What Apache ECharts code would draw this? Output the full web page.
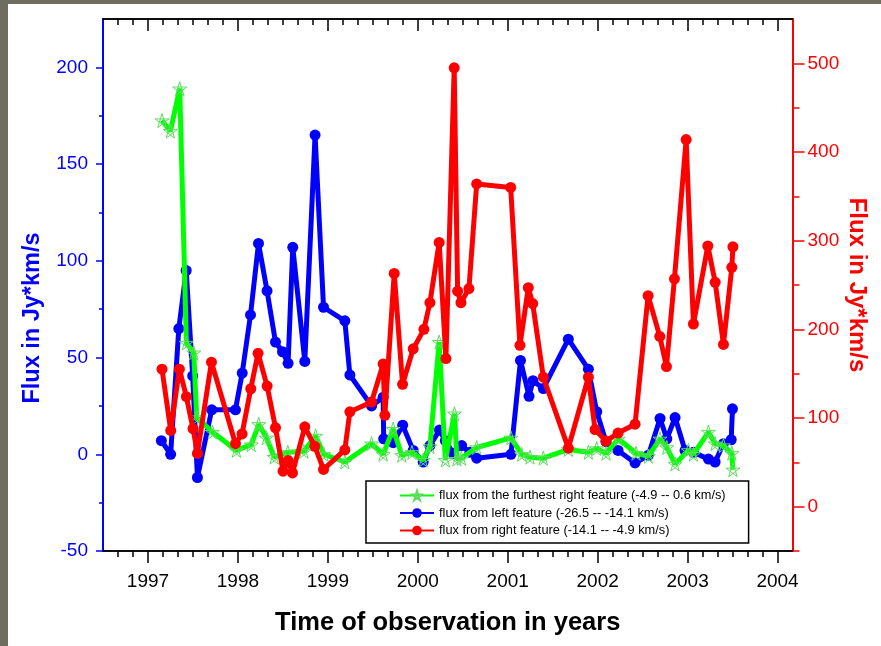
<!DOCTYPE html>
<html>
<head>
<meta charset="utf-8">
<script src="https://cdn.jsdelivr.net/npm/echarts@6/dist/echarts.min.js"></script>
<style>
  html, body { margin: 0; padding: 0; background: #ffffff; }
  #chart { width: 881px; height: 646px; }
</style>
</head>
<body>
<div id="chart"></div>
<script>
// Observation epochs (decimal years) and integrated fluxes (Jy*km/s)

// right feature (-14.1 -- -4.9 km/s), right-hand axis
const redTimes = [1997.156, 1997.253, 1997.349, 1997.427, 1997.501, 1997.550, 1997.706, 1997.973, 1998.046, 1998.143,
  1998.224, 1998.325, 1998.418, 1998.502, 1998.558, 1998.607, 1998.744, 1998.855, 1998.952, 1999.189,
  1999.245, 1999.486, 1999.615, 1999.634, 1999.738, 1999.831, 1999.949, 2000.068, 2000.135, 2000.238,
  2000.313, 2000.405, 2000.443, 2000.480, 2000.569, 2000.655, 2001.033, 2001.136, 2001.229, 2001.278,
  2001.396, 2001.674, 2001.897, 2001.971, 2002.093, 2002.227, 2002.416, 2002.561, 2002.691, 2002.765,
  2002.854, 2002.984, 2003.065, 2003.225, 2003.307, 2003.399, 2003.492, 2003.504];
const redFlux = [155, 86, 155, 124, 88, 60, 163, 71, 82, 133,
  173, 136, 89, 40, 52, 38, 90, 68, 42, 64,
  107, 118, 161, 103, 263, 138, 178, 200, 230, 298,
  167, 495, 243, 230, 246, 364, 360, 182, 247, 229,
  146, 66, 146, 87, 74, 83, 93, 238, 192, 158,
  257, 414, 206, 294, 253, 183, 270, 293];

// left feature (-26.5 -- -14.1 km/s), left-hand axis
const blueTimes = [1997.149, 1997.252, 1997.343, 1997.425, 1997.497, 1997.550, 1997.709, 1997.973, 1998.048, 1998.140,
  1998.229, 1998.324, 1998.418, 1998.496, 1998.558, 1998.610, 1998.744, 1998.858, 1998.952, 1999.189,
  1999.245, 1999.486, 1999.615, 1999.621, 1999.727, 1999.832, 1999.949, 2000.060, 2000.135, 2000.241,
  2000.307, 2000.394, 2000.488, 2000.580, 2000.655, 2001.036, 2001.142, 2001.237, 2001.281, 2001.396,
  2001.674, 2001.897, 2001.990, 2002.093, 2002.227, 2002.416, 2002.564, 2002.694, 2002.769, 2002.861,
  2002.972, 2003.065, 2003.232, 2003.306, 2003.399, 2003.485, 2003.499];
const blueFlux = [7, 0, 65, 95, 40.5, -12, 23, 23, 42, 72,
  109, 84.5, 58, 53, 47, 107, 48, 165, 76, 69,
  41, 25, 29.5, 8, 6, 15, 2, -4, 4.5, 12.5,
  7, 0.5, 4.5, 1, -2, 0, 48.5, 30, 38, 34,
  59.5, 44, 22, 6.5, 2, -4.5, -0.5, 18.5, 8, 19,
  2, 1, -2.5, -4, 5.5, 7.5, 23.5];

// furthest right feature (-4.9 -- 0.6 km/s), left-hand axis
const greenTimes = [1997.156, 1997.249, 1997.353, 1997.427, 1997.509, 1997.542, 1997.717, 1997.984, 1998.148, 1998.232,
  1998.318, 1998.404, 1998.555, 1998.733, 1998.864, 1998.955, 1999.189, 1999.486, 1999.615, 1999.726,
  1999.823, 1999.935, 2000.060, 2000.135, 2000.238, 2000.307, 2000.408, 2000.435, 2000.485, 2000.655,
  2001.036, 2001.155, 2001.248, 2001.396, 2001.674, 2001.897, 2001.990, 2002.093, 2002.230, 2002.427,
  2002.564, 2002.694, 2002.769, 2002.861, 2003.009, 2003.065, 2003.232, 2003.306, 2003.399, 2003.492,
  2003.504];
const greenFlux = [172.5, 167, 189, 57.5, 52.5, 19, 11.5, 2, 5, 15.5,
  8.5, -1.5, 1, 1.5, 9.5, 0, -4, 5.5, 0, 13,
  -0.5, 1, -3, 4, 58, -3, 21, -2.5, -2, 3.5,
  8.5, 0, -1.5, -2, 2.5, 1, 3, 0.5, 8, 0.5,
  -1, 8, 3.5, -5, 2, 0, 11.5, 5.5, 4.5, 0.5,
  -8];

const seriesNames = [
  'flux from the furthest right feature (-4.9 -- 0.6 km/s)',
  'flux from left feature (-26.5 -- -14.1 km/s)',
  'flux from right feature (-14.1 -- -4.9 km/s)'
];

// Axis tick positions
const yearTicks = [1997, 1998, 1999, 2000, 2001, 2002, 2003, 2004];
const leftMajorTicks = [-50, 0, 50, 100, 150, 200];
const leftMinorTicks = [-25, 25, 75, 125, 175];
const rightMajorTicks = [0, 100, 200, 300, 400, 500];
const rightMinorTicks = [-50, 50, 150, 250, 350, 450];

const X_MIN = 1996.5, X_MAX = 2004 + 1 / 6;

// two-month minor ticks between the year marks
const monthTicks = [];
for (let k = 1; k <= 46; k++) {
  if (k % 6 !== 3) monthTicks.push(+(X_MIN + k / 6).toFixed(4));
}

function pairs(xs, ys) { return xs.map((x, i) => [x, ys[i]]); }

const FONT = 'Arial, "Liberation Sans", sans-serif';
const BLUE = '#0000ff', RED = '#ff0000', GREEN = '#00ff00';
const starPath = 'path://M50 2 L79 96 L2 38 L98 38 L21 96 Z';

function xAxisDef(pos, ticks, len, inside, labels) {
  return {
    type: 'value', position: pos, min: X_MIN, max: X_MAX,
    axisLine: { show: true, onZero: false, lineStyle: { color: '#000', width: 1.5 } },
    axisTick: { show: true, inside: inside, length: len, customValues: ticks, lineStyle: { color: '#000', width: 1.5 } },
    axisLabel: labels ? {
      show: true, customValues: yearTicks, color: '#000', fontSize: 19, fontFamily: FONT, margin: 21,
      formatter: (v) => String(Math.round(v))
    } : { show: false },
    splitLine: { show: false }
  };
}

function yAxisDef(pos, min, max, color, ticks, len, labels, lineShow) {
  return {
    type: 'value', position: pos, min: min, max: max,
    axisLine: { show: lineShow, onZero: false, lineStyle: { color: color, width: 2 } },
    axisTick: { show: true, length: len, customValues: ticks, lineStyle: { color: color, width: 1.5 } },
    axisLabel: labels ? { show: true, customValues: labels, color: color, fontSize: 19, fontFamily: FONT, margin: 15 } : { show: false },
    splitLine: { show: false }
  };
}

const xAxes = [
  xAxisDef('bottom', yearTicks, 12, false, true),
  xAxisDef('bottom', monthTicks, 6, false, false),
  xAxisDef('top', yearTicks, 12, true, false),
  xAxisDef('top', monthTicks, 6, true, false)
];
Object.assign(xAxes[0], {
  name: 'Time of observation in years', nameLocation: 'middle', nameGap: 59,
  nameTextStyle: { color: '#000', fontSize: 25.5, fontWeight: 'bold', fontFamily: FONT }
});

const yAxes = [
  yAxisDef('left', -50, 225, BLUE, leftMajorTicks, 7, leftMajorTicks, true),
  yAxisDef('left', -50, 225, BLUE, leftMinorTicks, 4, null, false),
  yAxisDef('right', -50, 550, RED, rightMajorTicks, 12, rightMajorTicks, true),
  yAxisDef('right', -50, 550, RED, rightMinorTicks, 7, null, false)
];
Object.assign(yAxes[0], {
  name: 'Flux in Jy*km/s', nameLocation: 'middle', nameGap: 58,
  nameTextStyle: { color: BLUE, fontSize: 23.5, fontWeight: 'bold', fontFamily: FONT, padding: [0, 66, 0, 0] }
});
Object.assign(yAxes[2], {
  name: 'Flux in Jy*km/s', nameLocation: 'middle', nameGap: 52, nameRotate: -90,
  nameMoveOverlap: false,
  nameTextStyle: { color: RED, fontSize: 24, fontWeight: 'bold', fontFamily: FONT }
});

const chart = echarts.init(document.getElementById('chart'), null, { renderer: 'canvas' });
chart.setOption({
  animation: false,
  backgroundColor: '#ffffff',
  graphic: [
    { type: 'rect', left: 0, top: 0, shape: { width: 881, height: 4 }, style: { fill: '#6e6e60' }, z: 100 },
    { type: 'rect', left: 0, top: 0, shape: { width: 8, height: 646 }, style: { fill: '#6e6e60' }, z: 100 }
  ],
  grid: { left: 103, top: 19, width: 689.5, height: 532, containLabel: false },
  xAxis: xAxes,
  yAxis: yAxes,
  legend: {
    data: seriesNames,
    orient: 'vertical',
    left: 366, top: 481,
    padding: [8, 23, 6, 33],
    itemWidth: 34, itemHeight: 12, itemGap: 4.5,
    backgroundColor: '#ffffff',
    borderColor: '#000', borderWidth: 1.5,
    textStyle: { color: '#000', fontSize: 12.8, fontFamily: FONT },
    selectedMode: false
  },
  series: [
    {
      name: seriesNames[1], type: 'line', xAxisIndex: 0, yAxisIndex: 0,
      data: pairs(blueTimes, blueFlux),
      symbol: 'circle', symbolSize: 11, showAllSymbol: true,
      lineStyle: { color: BLUE, width: 5 },
      itemStyle: { color: BLUE }, z: 2
    },
    {
      name: seriesNames[0], type: 'line', xAxisIndex: 0, yAxisIndex: 0,
      data: pairs(greenTimes, greenFlux),
      symbol: starPath, symbolSize: 14, showAllSymbol: true,
      lineStyle: { color: GREEN, width: 5 },
      itemStyle: { color: 'rgba(255,255,255,0)', borderColor: '#5fdc5f', borderWidth: 1 }, z: 3
    },
    {
      name: seriesNames[2], type: 'line', xAxisIndex: 0, yAxisIndex: 2,
      data: pairs(redTimes, redFlux),
      symbol: 'circle', symbolSize: 11, showAllSymbol: true,
      lineStyle: { color: RED, width: 5 },
      itemStyle: { color: RED }, z: 4
    }
  ]
});
</script>
</body>
</html>
